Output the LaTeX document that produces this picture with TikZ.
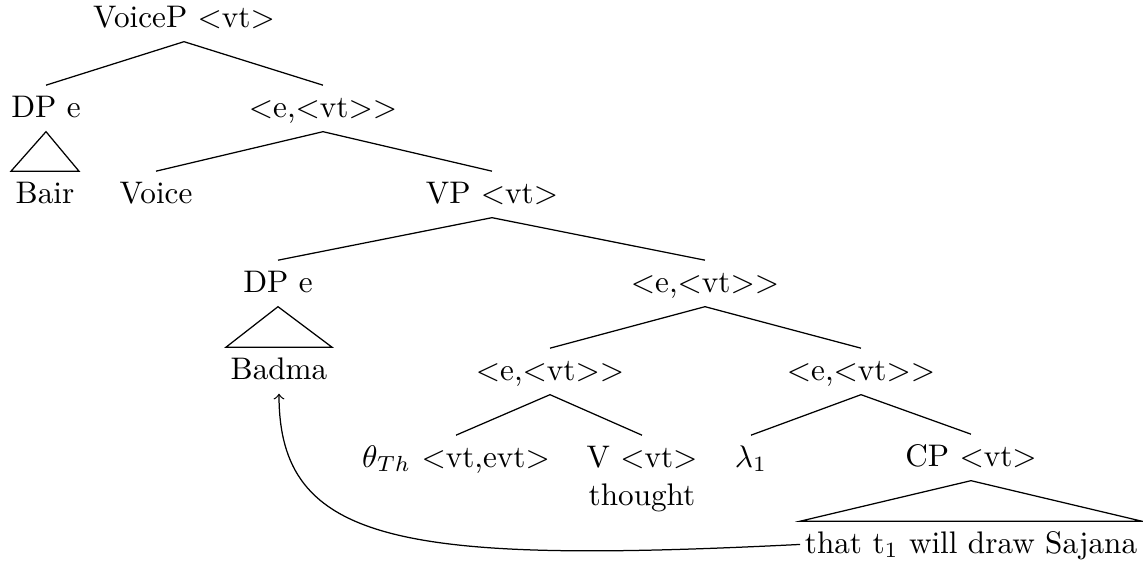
\documentclass[tikz,border=0pt]{standalone}
\begin{document}
\begin{tikzpicture}[x=0.3205pt,y=-0.3205pt,
  lbl/.style={inner xsep=1.3pt,inner ysep=0pt,text height=10pt,text depth=4.5pt,anchor=base},
  edge/.style={line width=0.4pt},
  movearrow/.style={->,line width=0.4pt}]
\useasboundingbox (0,0) rectangle (1143,560);
% nodes
\node[lbl] (voicep) at (184,27) {VoiceP $<$vt$>$};
\node[lbl] (dpa) at (46,117) {DP e};
\node[lbl] (eva) at (323,117) {$<$e,$<$vt$>>$};
\node[lbl] (bair) at (45,203) {Bair};
\node[lbl] (voice) at (156,203) {Voice};
\node[lbl] (vp) at (492,203) {VP $<$vt$>$};
\node[lbl] (dpb) at (278,292) {DP e};
\node[lbl] (evb) at (705,292) {$<$e,$<$vt$>>$};
\node[lbl] (badma) at (279,379) {Badma};
\node[lbl] (evc) at (550,380) {$<$e,$<$vt$>>$};
\node[lbl] (evd) at (861,380) {$<$e,$<$vt$>>$};
\node[lbl] (theta) at (456,467) {$\theta_{Th}$ $<$vt,evt$>$};
\node[lbl] (verb) at (642,467) {V $<$vt$>$};
\node[lbl] (thought) at (642,505) {thought};
\node[lbl] (lambda) at (751,467) {$\lambda_1$};
\node[lbl] (cp) at (971,466) {CP $<$vt$>$};
\node[lbl] (that) at (971,553) {that t$_1$ will draw Sajana};
% branches
\draw[edge] (dpa.north) -- (voicep.south) -- (eva.north);
\draw[edge] (voice.north) -- (eva.south) -- (vp.north);
\draw[edge] (dpb.north) -- (vp.south) -- (evb.north);
\draw[edge] (evc.north) -- (evb.south) -- (evd.north);
\draw[edge] (theta.north) -- (evc.south) -- (verb.north);
\draw[edge] (lambda.north) -- (evd.south) -- (cp.north);
% triangles
\draw[edge] (dpa.south) -- (bair.north west) -- (bair.north east) -- cycle;
\draw[edge] (dpb.south) -- (badma.north west) -- (badma.north east) -- cycle;
\draw[edge] (cp.south) -- (that.north west) -- (that.north east) -- cycle;
% movement arrow
\draw[movearrow] (that.west) .. controls +(-400,20) and +(0,150) .. (badma.south);
\end{tikzpicture}
\end{document}
